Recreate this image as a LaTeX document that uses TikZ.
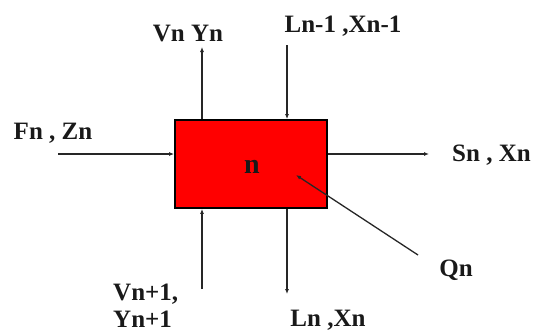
\documentclass[tikz,border=0pt]{standalone}
\usepackage{fontspec}
\setmainfont{Liberation Serif}
\usetikzlibrary{arrows.meta,positioning,calc}
\definecolor{cStage}{HTML}{FF0000}
\tikzset{
  lbl/.style={font=\fontsize{25}{27}\selectfont\bfseries, inner sep=0pt, text=black!90},
  stagebox/.style={draw=black, line width=1.8pt, fill=cStage, minimum width=152pt,
    minimum height=88pt, inner sep=0pt},
  flow/.style={-{Latex[length=5pt,width=4pt]}, line width=1.3pt, draw=black!85},
}
\begin{document}
\begin{tikzpicture}[x=1pt,y=-1pt]
    \useasboundingbox (0,0) rectangle (533,332);
    % --- stage ---
    \node[stagebox] (stage) at (251,164) {};
    \node[lbl, font=\fontsize{28}{30}\selectfont\bfseries] (n) at (252,167) {n};
    % --- free ends ---
    \coordinate (vout) at (202,47);
    \coordinate (lin) at (287,45);
    \coordinate (fin) at (58,154);
    \coordinate (sout) at (429,154);
    \coordinate (vin) at (202,289);
    \coordinate (lout) at (287,294);
    \coordinate (qin) at (418,255);
    \coordinate (qtip) at (296,175);
    % --- streams ---
    \draw[flow] (stage.north -| vout) -- (vout);
    \draw[flow] (lin) -- (lin |- stage.north);
    \draw[flow] (fin) -- (stage.west |- fin);
    \draw[flow] (stage.east |- sout) -- (sout);
    \draw[flow] (vin) -- (vin |- stage.south);
    \draw[flow] (lout |- stage.south) -- (lout);
    \draw[flow] (qin) -- (qtip);
    % --- labels ---
    \node[lbl] (vyn) at (188,34) {Vn Yn};
    \node[lbl] (lxprev) at (343,26) {Ln-1 ,Xn-1};
    \node[lbl] (fzn) at (53,133) {Fn , Zn};
    \node[lbl, anchor=west] (sxn) at (452,155) {Sn , Xn};
    \node[lbl] (qn) at (456,270) {Qn};
    \node[lbl, align=left, anchor=north west] (vynext) at (113,284) {Vn+1,\\Yn+1};
    \node[lbl] (lxn) at (328,320) {Ln ,Xn};
\end{tikzpicture}
\end{document}
